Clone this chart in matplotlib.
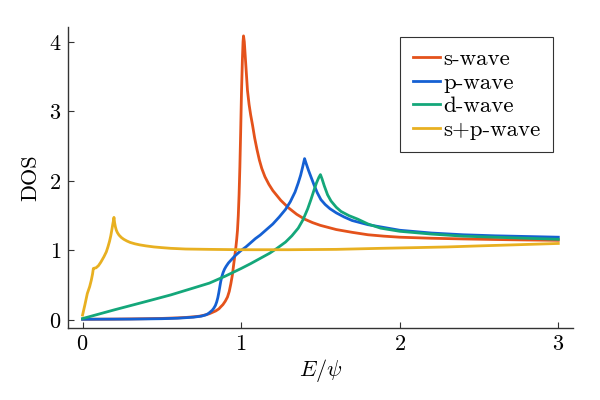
import matplotlib
matplotlib.use("Agg")
import matplotlib.pyplot as plt

plt.rcParams['font.family'] = ['cmr10', 'DejaVu Serif']
plt.rcParams['mathtext.fontset'] = 'cm'
plt.rcParams['axes.formatter.use_mathtext'] = True

# s-wave
s_x = [0, 0.2, 0.4, 0.5, 0.6, 0.65, 0.7, 0.74, 0.77, 0.8, 0.82, 0.84, 0.86, 0.872, 0.885,
       0.9, 0.914, 0.925, 0.935, 0.945, 0.952, 0.96, 0.967, 0.972, 0.977, 0.982, 0.987,
       0.992, 0.997, 1.002, 1.008, 1.012, 1.015, 1.02, 1.03, 1.04, 1.05, 1.06, 1.072,
       1.085, 1.1, 1.115, 1.13, 1.15, 1.175, 1.2, 1.25, 1.3, 1.35, 1.4, 1.45, 1.5, 1.6,
       1.7, 1.8, 1.9, 2.0, 2.2, 2.4, 2.6, 2.8, 3.0]
s_y = [0.01, 0.012, 0.018, 0.022, 0.03, 0.036, 0.045, 0.055, 0.07, 0.09, 0.11, 0.13, 0.16,
       0.19, 0.22, 0.27, 0.33, 0.41, 0.52, 0.65, 0.78, 0.92, 1.05, 1.16, 1.29, 1.5, 1.8,
       2.2, 2.7, 3.25, 3.75, 4.0, 4.085, 4.0, 3.65, 3.3, 3.1, 2.95, 2.8,
       2.62, 2.45, 2.3, 2.18, 2.06, 1.95, 1.86, 1.72, 1.61, 1.52, 1.45, 1.40, 1.36, 1.30,
       1.26, 1.225, 1.205, 1.19, 1.175, 1.165, 1.157, 1.15, 1.145]

# p-wave
p_x = [0, 0.3, 0.5, 0.6, 0.7, 0.75, 0.78, 0.795, 0.808, 0.818, 0.828, 0.838, 0.846, 0.853,
       0.859, 0.865, 0.871, 0.878, 0.886, 0.895, 0.905, 0.92, 0.94, 0.96, 0.98, 1.0, 1.03,
       1.06, 1.09, 1.12, 1.16, 1.2, 1.24, 1.28, 1.31, 1.34, 1.36, 1.375, 1.388, 1.4, 1.41,
       1.425, 1.44, 1.46, 1.48, 1.503, 1.53, 1.56, 1.6, 1.65, 1.7, 1.8, 1.9, 2.0, 2.2, 2.4,
       2.6, 2.8, 3.0]
p_y = [0.01, 0.012, 0.018, 0.025, 0.04, 0.055, 0.075, 0.095, 0.12, 0.14, 0.17, 0.21, 0.26, 0.32,
       0.39, 0.47, 0.55, 0.62, 0.68, 0.73, 0.77, 0.82, 0.87, 0.92, 0.96, 1.0, 1.05,
       1.11, 1.17, 1.22, 1.30, 1.38, 1.48, 1.59, 1.70, 1.84, 1.97, 2.08, 2.2, 2.32, 2.25,
       2.15, 2.06, 1.94, 1.83, 1.73, 1.66, 1.60, 1.54, 1.48, 1.43, 1.37, 1.33, 1.29, 1.25, 1.225,
       1.21, 1.20, 1.19]

# d-wave
d_x = [0, 0.2, 0.4, 0.556, 0.7, 0.8, 0.9, 1.0, 1.06, 1.124, 1.18, 1.226, 1.28, 1.32, 1.36,
       1.39, 1.42, 1.44, 1.46, 1.475, 1.49, 1.50, 1.51, 1.524, 1.545, 1.567, 1.6, 1.63,
       1.68, 1.735, 1.8, 1.88, 2.0, 2.2, 2.4, 2.6, 2.8, 3.0]
d_y = [0.02, 0.145, 0.265, 0.36, 0.46, 0.53, 0.63, 0.74, 0.81, 0.89, 0.96, 1.03, 1.12, 1.21, 1.32,
       1.44, 1.60, 1.73, 1.87, 1.97, 2.05, 2.09, 2.03, 1.93, 1.80, 1.71, 1.62, 1.56,
       1.50, 1.45, 1.38, 1.32, 1.275, 1.235, 1.205, 1.19, 1.175, 1.16]

# s+p-wave
sp_x = [0, 0.015, 0.03, 0.045, 0.055, 0.063, 0.068, 0.075, 0.085, 0.1, 0.115, 0.135, 0.15,
        0.16, 0.17, 0.178, 0.185, 0.19, 0.195, 0.198, 0.202, 0.207, 0.213, 0.22, 0.23,
        0.245, 0.26, 0.28, 0.3, 0.33, 0.36, 0.4, 0.45, 0.5, 0.556, 0.65, 0.8, 1.0, 1.3,
        1.6, 1.88, 2.1, 2.3, 2.5, 2.72, 3.0]
sp_y = [0.07, 0.22, 0.38, 0.48, 0.57, 0.66, 0.74, 0.745, 0.75, 0.78, 0.83, 0.91, 0.98,
        1.05, 1.13, 1.21, 1.30, 1.37, 1.43, 1.475, 1.40, 1.34, 1.29, 1.255, 1.22,
        1.185, 1.16, 1.135, 1.115, 1.095, 1.08, 1.065, 1.05, 1.04, 1.03, 1.02, 1.015, 1.01, 1.01,
        1.015, 1.03, 1.04, 1.05, 1.065, 1.08, 1.10]

labels = ["s-wave", "p-wave", "d-wave", "s+p-wave"]
colors = ["#E4521B", "#1560D3", "#14A77A", "#E8B021"]
xticks = [0, 1, 2, 3]
yticks = [0, 1, 2, 3, 4]

fig = plt.figure(figsize=(6, 4), dpi=100)
ax = fig.add_axes([0.1138, 0.181, 0.8405, 0.751])

for xs, ys, lab, c in zip([s_x, p_x, d_x, sp_x], [s_y, p_y, d_y, sp_y], labels, colors):
    ax.plot(xs, ys, color=c, lw=2.0, label=lab)

ax.set_xlim(-0.09, 3.09)
ax.set_ylim(-0.11, 4.21)
ax.set_xticks(xticks)
ax.set_yticks(yticks)
ax.tick_params(direction='in', length=4, width=0.8, labelsize=16, color='#333333', pad=5)
for side in ['top', 'right']:
    ax.spines[side].set_visible(False)
for side in ['left', 'bottom']:
    ax.spines[side].set_color('#333333')
    ax.spines[side].set_linewidth(1.0)

ax.set_xlabel(r"$E/\psi$", fontsize=16, labelpad=2)
ax.set_ylabel("DOS", fontsize=16, labelpad=6)

leg = ax.legend(loc='upper right', bbox_to_anchor=(0.961, 0.969), borderaxespad=0,
                fontsize=16.5, frameon=True, fancybox=False, edgecolor='black',
                handlelength=1.2, handletextpad=0.12, labelspacing=0.15, borderpad=0.55)
leg.get_frame().set_linewidth(0.8)

fig.savefig("out.png", dpi=100)
